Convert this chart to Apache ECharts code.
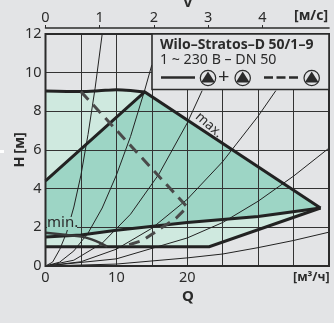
<!DOCTYPE html>
<html><head><meta charset="utf-8">
<style>html,body{margin:0;padding:0;background:#e3e4e6}#c{width:334px;height:323px}</style>
<script src="https://cdn.jsdelivr.net/npm/echarts@6/dist/echarts.min.js"></script></head>
<body><div id="c"></div>
<script>
var velocityTicks = [0, 1, 2, 3, 4];
var flowTicks = [0, 10, 20, 30];
var headTicks = [0, 2, 4, 6, 8, 10, 12];
var lightArea = [[0,1],[0,9.05],[5,9.02],[10,9.15],[14,9],[38.8,3],[23.1,1]];
var darkArea = [[0,4.4],[14,9],[38.8,3],[30,2.56],[20,2.25],[10,1.85],[5,1.6],[0,1.5]];
var maxSlope = [[0,4.4],[14,9],[38.8,3]];
var topCurve = [[0,9.05],[5,9.02],[7.5,9.06],[10,9.12],[12,9.08],[14,9]];
var lowerLine = [[0,1.5],[5,1.6],[10,1.85],[20,2.25],[30,2.56],[38.8,3]];
var minBottom = [[38.8,3],[23.1,1],[0,1]];
var minCurve = [[0,1.72],[3,1.6],[5,1.52],[6.5,1.38],[7.7,1.2],[8.7,1]];
var dashedLine = [[5,9.02],[20,3.05],[18.4,2.47],[15.9,1.86],[13.8,1.34],[11,1]];
var sysA = [[0,0],[1,0.2],[2,0.85],[3,1.75],[4,3.05],[5,4.7],[6,6.8],[7,9.2],[8,12]];
var sysB = [[0,0],[2,0.2],[4,0.78],[6,1.7],[8,3],[10,4.7],[12,6.7],[14,9.1],[15,10.4]];
var sysC = [[0,0],[4,0.3],[8,1.18],[12,2.68],[16,4.75],[20,7.4],[22.1,9.07]];
var sysD = [[0,0],[5,0.22],[10,0.87],[15,1.95],[20,3.45],[25,5.4],[30,7.75],[32.5,9.07]];
var sysE = [[0,0],[10,0.37],[20,1.45],[25,2.25],[30,3.35],[35,4.65],[40,6.1]];
var sysF = [[0,0],[10,0.1],[20,0.42],[25,0.62],[30,0.95],[35,1.32],[40,1.75]];

var ink = '#2b2b2b', bg = '#e3e4e6', font = '"Noto Sans"';

function polygon(name, pts, color) {
  return {
    type: 'custom', name: name, coordinateSystem: 'cartesian2d', xAxisIndex: 0, yAxisIndex: 0,
    z: 0, silent: true, clip: false, data: [0],
    renderItem: function (p, api) {
      return { type: 'polygon', shape: { points: pts.map(function (d) { return api.coord(d); }) },
               style: { fill: color, stroke: null } };
    }
  };
}
function line(data, width, color, smooth, type, z) {
  return { type: 'line', data: data, symbol: 'none', smooth: smooth ? 0.3 : false, silent: true, clip: false,
           animation: false, z: z || 3,
           lineStyle: { width: width, color: color, type: type || 'solid', cap: 'butt', join: 'miter' } };
}
function pump(cx, cy) {
  return [
    { type: 'circle', shape: { cx: cx, cy: cy, r: 7.7 }, style: { fill: bg, stroke: ink, lineWidth: 1.2 }, z: 21 },
    { type: 'polygon', shape: { points: [[cx, cy - 6.5], [cx + 7, cy + 4.5], [cx - 7, cy + 4.5]] }, style: { fill: ink }, z: 22 }
  ];
}
function txt(x, y, s, size, extra) {
  var st = Object.assign({ x: x, y: y, text: s, fontSize: size, fontFamily: font, fill: ink, verticalAlign: 'middle' }, extra || {});
  return { type: 'text', style: st, z: 23 };
}

var chart = echarts.init(document.getElementById('c'), null, { renderer: 'canvas' });
var graphics = [
  { type: 'rect', shape: { x: 0, y: 150, width: 4, height: 3 }, style: { fill: '#ffffff' }, z: 20 },
  { type: 'rect', shape: { x: 152, y: 34, width: 177, height: 55.5 }, style: { fill: bg, stroke: ink, lineWidth: 1.6 }, z: 20 },
  txt(160, 45, 'Wilo–Stratos–D 50/1–9', 14, { fontWeight: 'bold' }),
  txt(160, 60, '1 ~ 230 В – DN 50', 14.2),
  { type: 'line', shape: { x1: 161, y1: 77.5, x2: 195, y2: 77.5 }, style: { stroke: ink, lineWidth: 2.5 }, z: 21 },
  { type: 'line', shape: { x1: 264, y1: 77.5, x2: 298, y2: 77.5 }, style: { stroke: ink, lineWidth: 2.5, lineDash: [9, 3.5] }, z: 21 },
  txt(218, 77, '+', 20),
  txt(294, 16, '[м/с]', 14, { fontWeight: 'bold' }),
  txt(293, 277, '[м³/ч]', 12.5, { fontWeight: 'bold' }),
  txt(183, 3, 'V', 15, { fontWeight: 'bold' }),
  txt(182, 297, 'Q', 15, { fontWeight: 'bold' }),
  { type: 'text', x: 20, y: 143, rotation: Math.PI / 2, style: { x: 0, y: 0, text: '[м]', fontSize: 14.5, fontFamily: font, fontWeight: 'bold', fill: ink, align: 'center', verticalAlign: 'middle' }, z: 23 },
  { type: 'text', x: 20, y: 162, rotation: Math.PI / 2, style: { x: 0, y: 0, text: 'H', fontSize: 14.5, fontFamily: font, fontWeight: 'bold', fill: ink, align: 'center', verticalAlign: 'middle' }, z: 23 },
  { type: 'rect', shape: { x: 47, y: 217, width: 30, height: 13 }, style: { fill: '#9dd5c5' }, z: 4 },
  txt(47, 223, 'min.', 15),
  { type: 'text', x: 209, y: 125, rotation: -0.72, style: { x: 0, y: 0, text: 'max.', fontSize: 13.5, fontFamily: font, fill: ink, align: 'center', verticalAlign: 'middle' }, z: 23 }
].concat(pump(208, 78), pump(242.7, 78), pump(311.7, 78));

chart.setOption({
  animation: false,
  backgroundColor: bg,
  grid: { left: 45.5, top: 34, width: 283.5, height: 232, show: true, borderColor: ink, borderWidth: 2, backgroundColor: 'transparent', z: 6 },
  xAxis: [
    { type: 'value', min: 0, max: 40, interval: 5, position: 'bottom', z: 2,
      axisLine: { show: false }, axisTick: { show: false },
      splitLine: { show: true, lineStyle: { color: '#333333', width: 1 } },
      axisLabel: { color: ink, fontSize: 14.5, fontFamily: font, margin: 4, showMaxLabel: false,
        customValues: flowTicks, formatter: function (v) { return String(v); } } },
    { type: 'value', min: 0, max: 5.23, position: 'top', offset: 6, z: 2,
      axisLine: { show: true, onZero: false, lineStyle: { color: ink, width: 1.6 } },
      axisTick: { show: true, length: 3, customValues: velocityTicks, lineStyle: { color: ink, width: 1 } },
      splitLine: { show: false },
      axisLabel: { color: ink, fontSize: 14.5, fontFamily: font, margin: 3, customValues: velocityTicks, formatter: function (v) { return String(v); } } }
  ],
  yAxis: { type: 'value', min: 0, max: 12, interval: 2, z: 2,
    axisLine: { show: false }, axisTick: { show: false },
    splitLine: { show: true, lineStyle: { color: '#333333', width: 1 } },
    axisLabel: { color: ink, fontSize: 14.5, fontFamily: font, margin: 4, customValues: headTicks, formatter: function (v) { return String(v); } } },
  series: [
    polygon('envelope', lightArea, '#cfe9df'),
    polygon('overlap', darkArea, '#9dd5c5'),
    line(sysA, 1, '#222'), line(sysB, 1, '#222'), line(sysC, 1, '#222'),
    line(sysD, 1, '#222'), line(sysE, 1, '#222'), line(sysF, 1, '#222'),
    line(maxSlope, 3, '#222', false, null, 5),
    line(topCurve, 3, '#222', true, null, 5),
    line(lowerLine, 3, '#222', false, null, 5),
    line(minBottom, 3, '#222', false, null, 5),
    line(minCurve, 2.5, '#3a3a3a', true, null, 5),
    line(dashedLine, 3, '#4a4a4a', false, [11, 7], 5)
  ],
  graphic: graphics
});
</script></body></html>
